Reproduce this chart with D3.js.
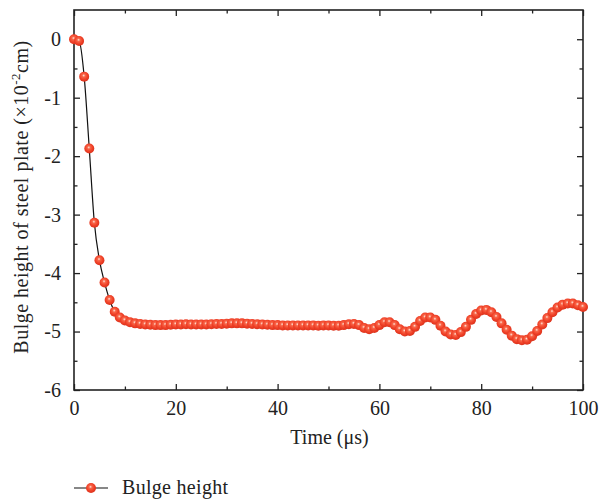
<!DOCTYPE html>
<html><head><meta charset="utf-8">
<script src="https://cdn.jsdelivr.net/npm/d3@7/dist/d3.min.js"></script>
<style>body{margin:0;background:#fff}svg{display:block}svg text{font-family:"Liberation Serif",serif !important;fill:#222}</style>
</head><body>
<svg id="c" width="609" height="501"></svg>
<script>
const timeUs = d3.range(0, 101);
const bulgeHeight = [
 0, -0.03, -0.64, -1.87, -3.14, -3.78, -4.16, -4.46, -4.66, -4.76,
 -4.81, -4.84, -4.86, -4.87, -4.88, -4.885, -4.89, -4.89, -4.89, -4.885,
 -4.88, -4.88, -4.875, -4.88, -4.88, -4.88, -4.88, -4.875, -4.87, -4.87,
 -4.865, -4.86, -4.86, -4.86, -4.865, -4.87, -4.875, -4.88, -4.885, -4.89,
 -4.89, -4.895, -4.895, -4.895, -4.895, -4.895, -4.895, -4.895, -4.9, -4.895,
 -4.895, -4.9, -4.9, -4.89, -4.875, -4.87, -4.89, -4.94, -4.96, -4.94,
 -4.89, -4.84, -4.84, -4.89, -4.96, -5.0, -4.99, -4.92, -4.82, -4.76,
 -4.76, -4.8, -4.9, -5.0, -5.05, -5.06, -5.01, -4.92, -4.8, -4.7,
 -4.64, -4.63, -4.67, -4.75, -4.86, -4.97, -5.07, -5.13, -5.15, -5.14,
 -5.08, -4.99, -4.88, -4.77, -4.67, -4.59, -4.54, -4.52, -4.52, -4.55, -4.58
];
const xTicks = [0, 20, 40, 60, 80, 100];
const xMinor = [10, 30, 50, 70, 90];
const yTicks = [0, -1, -2, -3, -4, -5, -6];
const yMinor = [-0.5, -1.5, -2.5, -3.5, -4.5, -5.5];
const seriesName = "Bulge height";

const FONT = "Liberation Serif";
const FS = 20;
const svg = d3.select("#c");
const L = 74, R = 583, T = 10, B = 390;
const x = d3.scaleLinear().domain([0, 100]).range([L, R]);
const y = d3.scaleLinear().domain([-6, 0.5]).range([B, T]);
const data = timeUs.map((t, i) => ({t, v: bulgeHeight[i]}));

const defs = svg.append("defs");
const g = defs.append("radialGradient").attr("id", "ball").attr("cx", "0.45").attr("cy", "0.42").attr("r", "0.6").attr("fx", "0.45").attr("fy", "0.38");
g.append("stop").attr("offset", "0%").attr("stop-color", "#ffe6dc");
g.append("stop").attr("offset", "25%").attr("stop-color", "#f8674a");
g.append("stop").attr("offset", "65%").attr("stop-color", "#ef3f26");
g.append("stop").attr("offset", "100%").attr("stop-color", "#d8321c");

const axc = "#222";
function styleTicks(a) {
  a.select(".domain").remove();
  a.selectAll("line").attr("stroke", axc).attr("stroke-width", 1.3);
  a.attr("font-family", FONT);
  a.selectAll("text").attr("font-size", FS).attr("font-family", FONT).attr("fill", "#222");
}
// bottom axis
svg.append("g").attr("transform", `translate(0,${B})`)
  .call(d3.axisBottom(x).tickValues(xTicks).tickSize(-6).tickPadding(11).tickFormat(d3.format("d"))).call(styleTicks);
svg.append("g").attr("transform", `translate(0,${B})`)
  .call(d3.axisBottom(x).tickValues(xMinor).tickSize(-3.5).tickFormat("")).call(styleTicks);
// top axis
svg.append("g").attr("transform", `translate(0,${T})`)
  .call(d3.axisTop(x).tickValues(xTicks).tickSize(-6).tickFormat("")).call(styleTicks);
svg.append("g").attr("transform", `translate(0,${T})`)
  .call(d3.axisTop(x).tickValues(xMinor).tickSize(-3.5).tickFormat("")).call(styleTicks);
// left axis
svg.append("g").attr("transform", `translate(${L},0)`)
  .call(d3.axisLeft(y).tickValues(yTicks).tickSize(-6).tickPadding(13).tickFormat(d => d === 0 ? "0" : "-" + Math.abs(d))).call(styleTicks);
svg.append("g").attr("transform", `translate(${L},0)`)
  .call(d3.axisLeft(y).tickValues(yMinor).tickSize(-3.5).tickFormat("")).call(styleTicks);
// right axis
svg.append("g").attr("transform", `translate(${R},0)`)
  .call(d3.axisRight(y).tickValues(yTicks).tickSize(-6).tickFormat("")).call(styleTicks);
svg.append("g").attr("transform", `translate(${R},0)`)
  .call(d3.axisRight(y).tickValues(yMinor).tickSize(-3.5).tickFormat("")).call(styleTicks);
// frame
svg.append("rect").attr("x", L).attr("y", T).attr("width", R - L).attr("height", B - T)
  .attr("fill", "none").attr("stroke", axc).attr("stroke-width", 1.6);

// line
const line = d3.line().x(d => x(d.t)).y(d => y(d.v)).curve(d3.curveMonotoneX);
svg.append("path").datum(data).attr("d", line).attr("fill", "none").attr("stroke", "#111").attr("stroke-width", 1.2);
// markers
svg.append("g").selectAll("circle").data(data).join("circle")
  .attr("cx", d => x(d.t)).attr("cy", d => y(d.v)).attr("r", 5).attr("fill", "url(#ball)");

// axis titles
svg.append("text").attr("x", (L + R) / 2 + 1).attr("y", 444).attr("text-anchor", "middle").attr("font-size", FS).attr("font-family", FONT).text("Time (μs)");
const yt = svg.append("text").attr("transform", `translate(28,${(T + B) / 2 - 3}) rotate(-90)`).attr("text-anchor", "middle").attr("font-size", FS).attr("font-family", FONT).attr("letter-spacing", 0.5);
yt.append("tspan").text("Bulge height of steel plate (×10");
yt.append("tspan").attr("dy", -8).attr("font-size", 13).text("-2");
yt.append("tspan").attr("dy", 8).text("cm)");

// legend
const ly = 488;
svg.append("line").attr("x1", 74).attr("x2", 108).attr("y1", ly).attr("y2", ly).attr("stroke", "#111").attr("stroke-width", 1.2);
svg.append("circle").attr("cx", 91).attr("cy", ly).attr("r", 5).attr("fill", "url(#ball)");
svg.append("text").attr("x", 122).attr("y", ly + 6).attr("font-size", FS).attr("font-family", FONT).attr("letter-spacing", 0.3).text(seriesName);
</script>
</body></html>
